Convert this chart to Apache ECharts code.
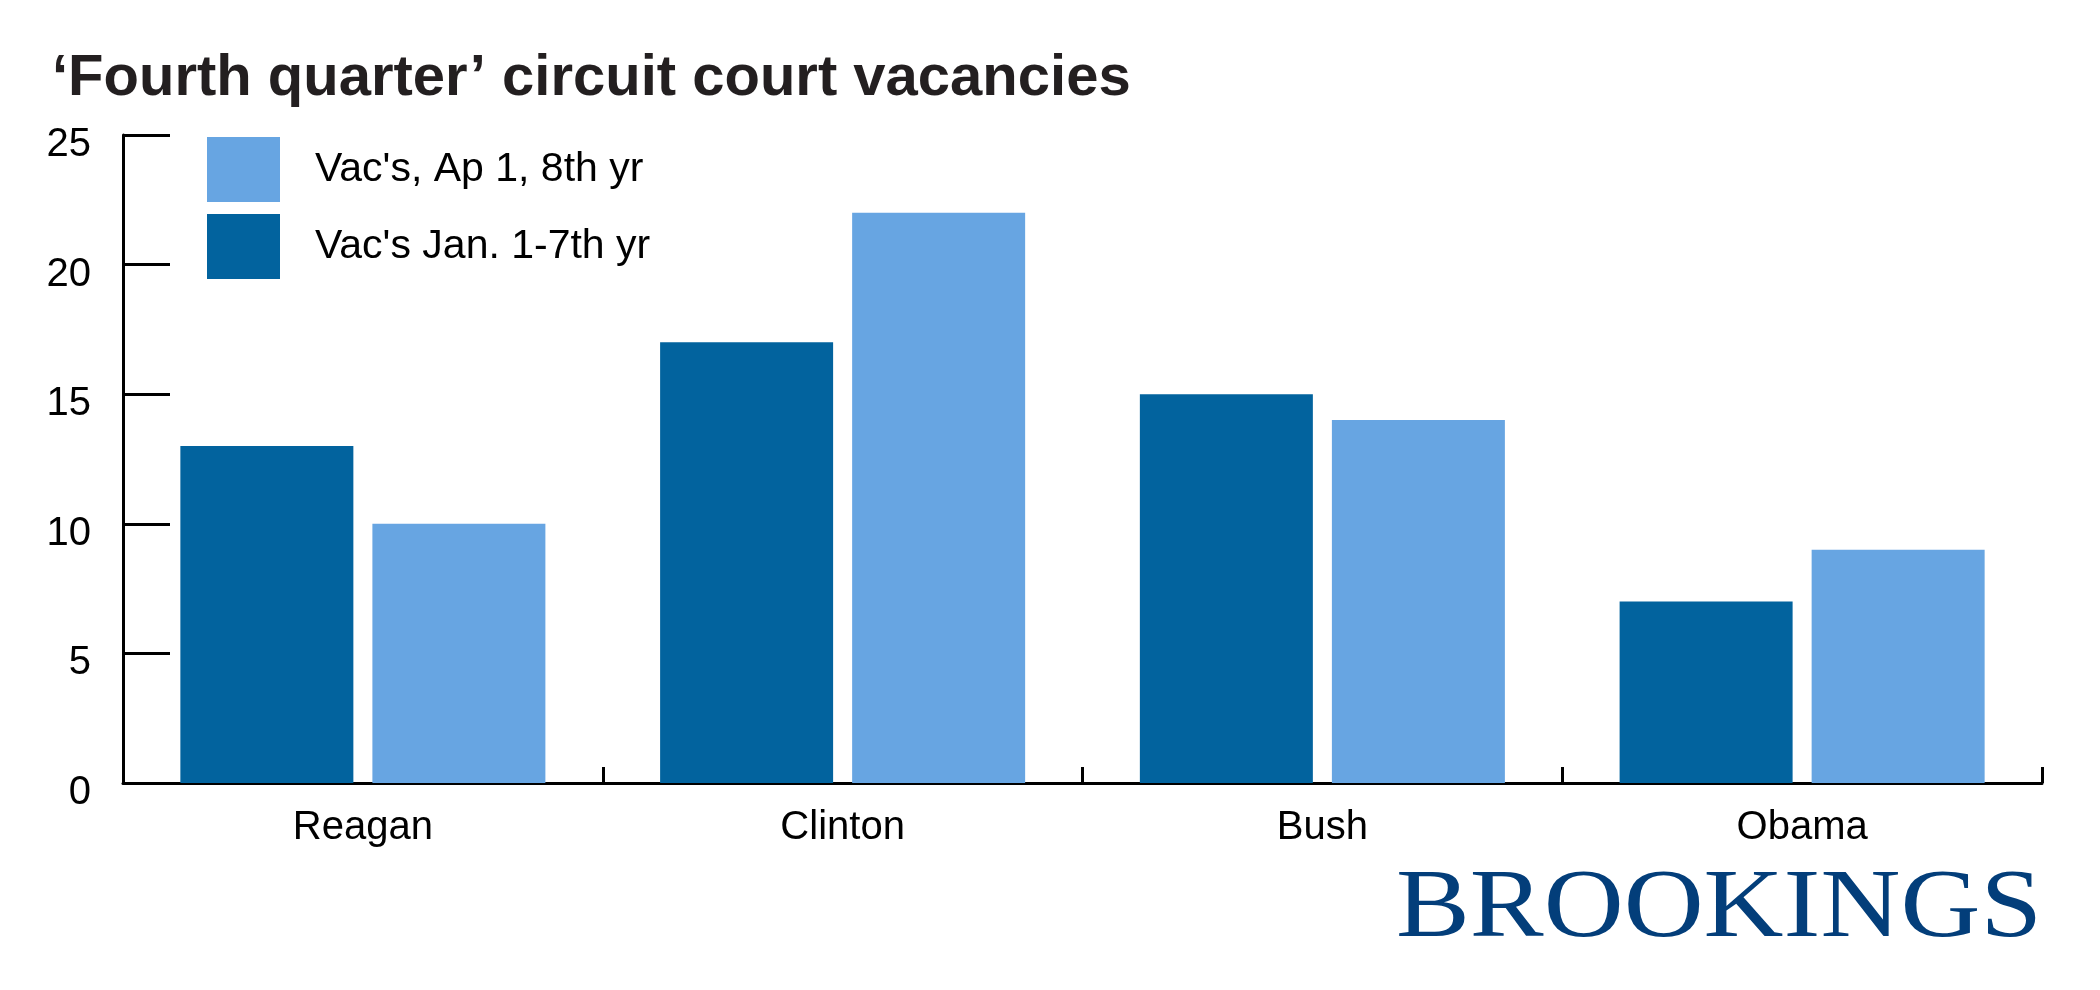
<!DOCTYPE html>
<html>
<head>
<meta charset="utf-8">
<script src="https://cdn.jsdelivr.net/npm/echarts@6/dist/echarts.min.js"></script>
<style>
html,body{margin:0;padding:0;background:#fff;}
#chart{width:2100px;height:990px;}
</style>
</head>
<body>
<div id="chart"></div>
<script>
const titleText = '\u2018Fourth quarter\u2019 circuit court vacancies';
const categories = ['Reagan', 'Clinton', 'Bush', 'Obama'];
const seriesJanName = "Vac's Jan. 1-7th yr";
const seriesAprName = "Vac's, Ap 1, 8th yr";
const vacJan7th = [13, 17, 15, 7];
const vacApr8th = [10, 22, 14, 9];
const yTicks = [0, 5, 10, 15, 20, 25];
const logoText = 'BROOKINGS';

const FONT = '"Liberation Sans", Arial, Helvetica, sans-serif';
const chart = echarts.init(document.getElementById('chart'), null, {renderer: 'canvas'});
chart.setOption({
  animation: false,
  backgroundColor: '#ffffff',
  title: {
    text: titleText,
    left: 52, top: 50, padding: 0,
    textStyle: {fontFamily: FONT, fontWeight: 'bold', fontSize: 58, color: '#231f20'}
  },
  legend: {
    orient: 'vertical',
    left: 207, top: 137, padding: 0,
    itemWidth: 73, itemHeight: 65, itemGap: 12,
    icon: 'rect',
    data: [seriesAprName, seriesJanName],
    textStyle: {fontFamily: FONT, fontSize: 41, color: '#000', padding: [0, 0, 0, 30]}
  },
  grid: {left: 123, right: 58, top: 135, bottom: 207, containLabel: false},
  xAxis: {
    type: 'category',
    data: categories,
    boundaryGap: true,
    axisLine: {show: true, lineStyle: {color: '#000', width: 3}},
    axisTick: {show: true, inside: true, length: 16, interval: 0, lineStyle: {color: '#000', width: 3}},
    axisLabel: {fontFamily: FONT, fontSize: 40, color: '#000', margin: 25, interval: 0},
    splitLine: {show: false}
  },
  yAxis: {
    type: 'value',
    min: yTicks[0], max: yTicks[yTicks.length - 1], interval: 5,
    axisLine: {show: true, lineStyle: {color: '#000', width: 3}},
    axisTick: {show: true, inside: true, length: 47, lineStyle: {color: '#000', width: 3}},
    axisLabel: {
      margin: 32,
      formatter: '{a|{value}}',
      rich: {a: {fontFamily: FONT, fontSize: 40, color: '#000', padding: [20, 0, 0, 0]}}
    },
    splitLine: {show: false}
  },
  series: [
    {name: seriesJanName, type: 'bar', data: vacJan7th, barWidth: 173, barGap: '11%',
     itemStyle: {color: '#02639e'}},
    {name: seriesAprName, type: 'bar', data: vacApr8th, barWidth: 173, barGap: '11%',
     itemStyle: {color: '#67a5e2'}}
  ],
  graphic: [{
    type: 'text',
    x: 2042, y: 910, scaleX: 1.13,
    style: {text: logoText, x: 0, y: 0, align: 'right', verticalAlign: 'middle',
            fontFamily: '"Liberation Serif", "Times New Roman", serif', fontSize: 98, fill: '#033e7a'}
  }]
});
</script>
</body>
</html>
